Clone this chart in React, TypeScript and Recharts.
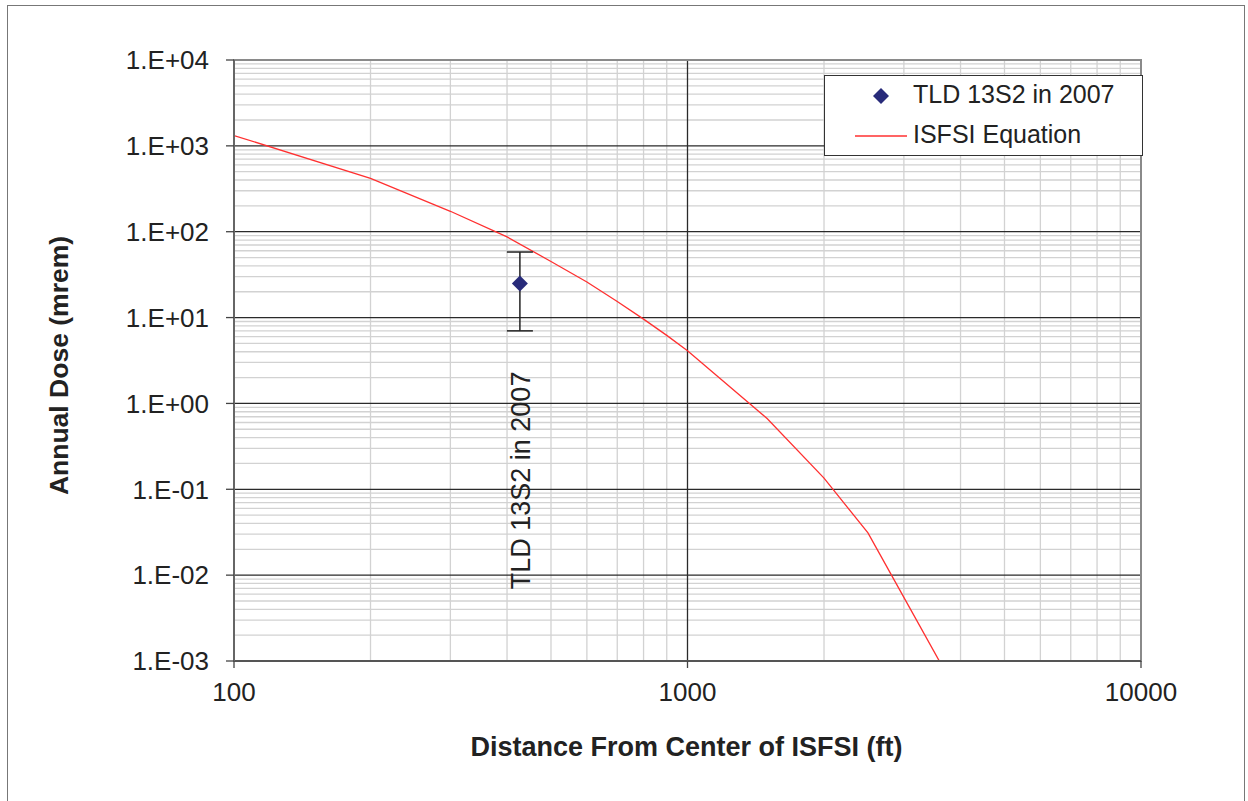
import React from 'react';
import {
  ComposedChart,
  Line,
  Scatter,
  ErrorBar,
  XAxis,
  YAxis,
  CartesianGrid,
  ReferenceArea,
  Legend,
  Label,
} from 'recharts';

// ISFSI equation curve (distance in ft, dose in mrem)
const distances = [100, 200, 300, 400, 500, 600, 700, 800, 900, 1000, 1500, 2000, 2500, 3000, 4000];
const equationDose = [1320, 419, 173, 87, 45, 26, 15.4, 9.6, 6.2, 4.1, 0.664, 0.135, 0.031, 0.0055, 0.00036];

// TLD measurement
const tldDistance = [427];
const tldDose = [25];
const tldLow = [7];
const tldHigh = [58];

const xTicks = [100, 1000, 10000];
const yTicks = [0.001, 0.01, 0.1, 1, 10, 100, 1000, 10000];
const xMinor = [200, 300, 400, 500, 600, 700, 800, 900, 2000, 3000, 4000, 5000, 6000, 7000, 8000, 9000];
const xMajor = [1000];
const yDecades = [0.001, 0.01, 0.1, 1, 10, 100, 1000];
const yMultipliers = [2, 3, 4, 5, 6, 7, 8, 9];
const yMajor = [0.01, 0.1, 1, 10, 100, 1000];

const FONT = '"Liberation Sans", Arial, sans-serif';
const NAVY = '#282b7a';
const RED = '#ff3030';

const curveData = distances.map((d, i) => ({ x: d, y: equationDose[i] }));
const tldData = tldDistance.map((d, i) => ({
  x: d,
  y: tldDose[i],
  err: [tldDose[i] - tldLow[i], tldHigh[i] - tldDose[i]],
}));
const yMinor = yDecades.flatMap((d) => yMultipliers.map((m) => +(d * m).toPrecision(3)));

const sciLabel = (v: number) => {
  const e = Math.round(Math.log10(v));
  return `1.E${e >= 0 ? '+' : '-'}${String(Math.abs(e)).padStart(2, '0')}`;
};

const TldMarker = (props: any) => {
  const { cx, cy } = props;
  if (cx == null || cy == null) return null;
  const r = 8;
  return (
    <g>
      <path d={`M${cx},${cy - r}L${cx + r},${cy}L${cx},${cy + r}L${cx - r},${cy}Z`} fill={NAVY} />
      <text
        x={cx + 1}
        y={cy + 197}
        transform={`rotate(-90 ${cx + 1} ${cy + 197})`}
        textAnchor="middle"
        dominantBaseline="central"
        fontFamily={FONT}
        fontSize={27}
        fill="#222"
      >
        TLD 13S2 in 2007
      </text>
    </g>
  );
};

const renderLegend = () => (
  <div
    style={{
      position: 'relative',
      width: 319,
      height: 81,
      boxSizing: 'border-box',
      border: '1.5px solid #333',
      background: '#fff',
      fontFamily: FONT,
      fontSize: 25,
      color: '#222',
    }}
  >
    <svg width={319} height={81} style={{ position: 'absolute', left: -1.5, top: -1.5 }}>
      <path d="M57,13L65,21L57,29L49,21Z" fill={NAVY} />
      <line x1={31} x2={83} y1={61} y2={61} stroke={RED} strokeWidth={1.5} />
      <text x={89} y={28} fontFamily={FONT} fontSize={25} fill="#222">TLD 13S2 in 2007</text>
      <text x={89} y={68} fontFamily={FONT} fontSize={25} fill="#222">ISFSI Equation</text>
    </svg>
  </div>
);

export default function App() {
  return (
    <div style={{ position: 'absolute', left: 0, top: 0, width: 1248, height: 801, background: '#fff' }}>
      <div
        style={{
          position: 'absolute',
          left: 7,
          top: 5,
          width: 1238,
          height: 800,
          boxSizing: 'border-box',
          border: '1.5px solid #777',
        }}
      />
      <div style={{ position: 'absolute', left: 0, top: 0 }}>
        <ComposedChart
          width={1248}
          height={801}
          margin={{ top: 60, right: 107, bottom: 0, left: 0 }}
          style={{ fontFamily: FONT }}
        >
          <CartesianGrid
            horizontalValues={yMinor}
            verticalValues={xMinor}
            stroke="#d2d2d2"
            strokeWidth={1.3}
            fill="none"
          />
          <CartesianGrid
            horizontalValues={yMajor}
            verticalValues={xMajor}
            stroke="#2a2a2a"
            strokeWidth={1.3}
            fill="none"
          />
          <ReferenceArea x1={100} x2={10000} y1={0.001} y2={10000} fill="none" stroke="#8a8a8a" strokeWidth={2} />
          <XAxis
            type="number"
            dataKey="x"
            scale="log"
            domain={[100, 10000]}
            ticks={xTicks}
            interval={0}
            allowDataOverflow
            height={140}
            tickSize={7}
            tickMargin={15}
            axisLine={{ stroke: '#555', strokeWidth: 2 }}
            tickLine={{ stroke: '#444', strokeWidth: 1.3 }}
            tick={{ fill: '#222', fontSize: 26, fontFamily: FONT }}
          >
            <Label
              content={({ viewBox }: any) => (
                <text
                  x={viewBox.x + viewBox.width / 2 - 1}
                  y={viewBox.y + 86}
                  textAnchor="middle"
                  dominantBaseline="central"
                  fontFamily={FONT}
                  fontSize={27}
                  fontWeight="bold"
                  fill="#222"
                >
                  Distance From Center of ISFSI (ft)
                </text>
              )}
            />
          </XAxis>
          <YAxis
            type="number"
            dataKey="y"
            scale="log"
            domain={[0.001, 10000]}
            ticks={yTicks}
            interval={0}
            allowDataOverflow
            width={234}
            tickSize={8}
            tickMargin={17}
            tickFormatter={sciLabel}
            axisLine={{ stroke: '#666', strokeWidth: 2 }}
            tickLine={{ stroke: '#444', strokeWidth: 1.3 }}
            tick={{ fill: '#222', fontSize: 26, fontFamily: FONT }}
          >
            <Label
              content={({ viewBox }: any) => {
                const cx = 59;
                const cy = viewBox.y + viewBox.height / 2 + 5;
                return (
                  <text
                    x={cx}
                    y={cy}
                    transform={`rotate(-90 ${cx} ${cy})`}
                    textAnchor="middle"
                    dominantBaseline="central"
                    fontFamily={FONT}
                    fontSize={26.5}
                    fontWeight="bold"
                    fill="#222"
                  >
                    Annual Dose (mrem)
                  </text>
                );
              }}
            />
          </YAxis>
          <Line
            data={curveData}
            dataKey="y"
            type="linear"
            stroke={RED}
            strokeWidth={1.3}
            dot={false}
            activeDot={false}
            isAnimationActive={false}
            name="ISFSI Equation"
          />
          <Scatter
            data={tldData}
            dataKey="y"
            shape={TldMarker}
            isAnimationActive={false}
            name="TLD 13S2 in 2007"
          >
            <ErrorBar dataKey="err" direction="y" width={13} stroke="#222" strokeWidth={1.5} />
          </Scatter>
          <Legend
            layout="horizontal"
            verticalAlign="middle"
            align="center"
            content={renderLegend}
            wrapperStyle={{ left: 824, top: 75, width: 319, height: 81 }}
          />
        </ComposedChart>
      </div>
    </div>
  );
}
